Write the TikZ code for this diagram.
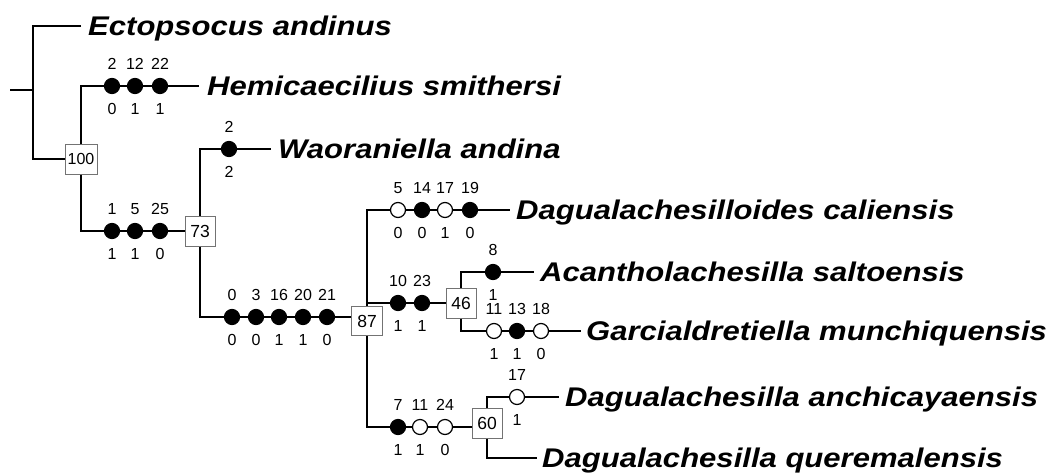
\documentclass[tikz,border=0pt]{standalone}
\usepackage{fontspec}
\setmainfont{Liberation Sans}
\newfontfamily\taxfont[FakeStretch=1.15]{Liberation Sans}
\newcommand\chdot[6]{%
  \node[#4] (#1) at (#2,#3) {};
  \node[chnum] (#1t) at (#2,#3-22) {#5};
  \node[chnum] (#1b) at (#2,#3+23) {#6};
}
\tikzset{
  br/.style={line width=1.7pt},
  fdot/.style={circle, draw, fill=black, line width=1.2pt, minimum size=15pt, inner sep=0pt},
  odot/.style={circle, draw, fill=white, line width=1.2pt, minimum size=15pt, inner sep=0pt},
  chnum/.style={font=\fontsize{16}{18}\selectfont, inner sep=0pt, text height=11.5pt, text depth=0pt},
  supbox/.style={draw=black!55, fill=white, line width=1pt, minimum width=30pt, minimum height=30pt, inner sep=0pt, text height=12.6pt, text depth=0pt, font=\fontsize{17.5}{20}\selectfont},
  taxon/.style={anchor=west, font=\taxfont\fontsize{27}{30}\selectfont\bfseries\itshape, inner sep=0pt, text height=19.4pt, text depth=0pt},
}
\begin{document}
\begin{tikzpicture}[x=1pt, y=-1pt]
\useasboundingbox[fill=white] (0,0) rectangle (1048,474);
% boxes
\node[supbox, minimum width=32pt, text height=11.4pt, font=\fontsize{16}{18}\selectfont] (b100) at (81,159) {100};
\node[supbox] (b73) at (200,231) {73};
\node[supbox, minimum width=31pt, minimum height=29pt] (b87) at (367,321) {87};
\node[supbox] (b46) at (461,303) {46};
\node[supbox] (b60) at (487,423) {60};
% taxa
\node[taxon] (tEct) at (88,26) {Ectopsocus andinus};
\node[taxon] (tHem) at (207,86) {Hemicaecilius smithersi};
\node[taxon] (tWao) at (278,149) {Waoraniella andina};
\node[taxon] (tDcal) at (516,210) {Dagualachesilloides caliensis};
\node[taxon] (tAca) at (540,272) {Acantholachesilla saltoensis};
\node[taxon] (tGar) at (586,331) {Garcialdretiella munchiquensis};
\node[taxon] (tAnc) at (565,397) {Dagualachesilla anchicayaensis};
\node[taxon] (tQue) at (542,458) {Dagualachesilla queremalensis};
% characters
\chdot{h1}{112}{86}{fdot}{2}{0}
\chdot{h2}{135}{86}{fdot}{12}{1}
\chdot{h3}{160}{86}{fdot}{22}{1}
\chdot{l1}{112}{231}{fdot}{1}{1}
\chdot{l2}{135}{231}{fdot}{5}{1}
\chdot{l3}{160}{231}{fdot}{25}{0}
\chdot{w1}{229}{149}{fdot}{2}{2}
\chdot{p1}{232}{317}{fdot}{0}{0}
\chdot{p2}{256}{317}{fdot}{3}{0}
\chdot{p3}{279}{317}{fdot}{16}{1}
\chdot{p4}{303}{317}{fdot}{20}{1}
\chdot{p5}{327}{317}{fdot}{21}{0}
\chdot{c1}{398}{210}{odot}{5}{0}
\chdot{c2}{422}{210}{fdot}{14}{0}
\chdot{c3}{445}{210}{odot}{17}{1}
\chdot{c4}{470}{210}{fdot}{19}{0}
\chdot{g1}{398}{303}{fdot}{10}{1}
\chdot{g2}{422}{303}{fdot}{23}{1}
\chdot{a1}{493}{272}{fdot}{8}{1}
\chdot{m1}{494}{331}{odot}{11}{1}
\chdot{m2}{517}{331}{fdot}{13}{1}
\chdot{m3}{541}{331}{odot}{18}{0}
\chdot{q1}{398}{427}{fdot}{7}{1}
\chdot{q2}{420}{427}{odot}{11}{1}
\chdot{q3}{445}{427}{odot}{24}{0}
\chdot{k1}{517}{397}{odot}{17}{1}
% branches
\coordinate (r0) at (10,90);
\coordinate (r1) at (33,90);
\coordinate (m0) at (367,303);
\draw[br] (r0) -- (r1);
\draw[br] ([xshift=-7pt]tEct.west) -| (r1) |- (b100.west);
\draw[br] (b100.north) |- (h1);
\draw[br] (h1) -- (h2) -- (h3) -- ([xshift=-8pt]tHem.west);
\draw[br] (b100.south) |- (l1);
\draw[br] (l1) -- (l2) -- (l3) -- (b73);
\draw[br] (b73.north) |- (w1);
\draw[br] (w1) -- ([xshift=-7pt]tWao.west);
\draw[br] (b73.south) |- (p1);
\draw[br] (p1) -- (p2) -- (p3) -- (p4) -- (p5) -- (b87.west |- p5);
\draw[br] (b87.north) |- (c1);
\draw[br] (c1) -- (c2) -- (c3) -- (c4) -- ([xshift=-6pt]tDcal.west);
\draw[br] (m0) -- (g1) -- (g2) -- (b46);
\draw[br] (b46.north) |- (a1);
\draw[br] (a1) -- ([xshift=-6pt]tAca.west);
\draw[br] (b46.south) |- (m1);
\draw[br] (m1) -- (m2) -- (m3) -- ([xshift=-5pt]tGar.west);
\draw[br] (b87.south) |- (q1);
\draw[br] (q1) -- (q2) -- (q3) -- (b60.west |- q3);
\draw[br] (b60.north) |- (k1);
\draw[br] (k1) -- ([xshift=-6pt]tAnc.west);
\draw[br] (b60.south) |- ([xshift=-5pt]tQue.west);
\end{tikzpicture}
\end{document}
